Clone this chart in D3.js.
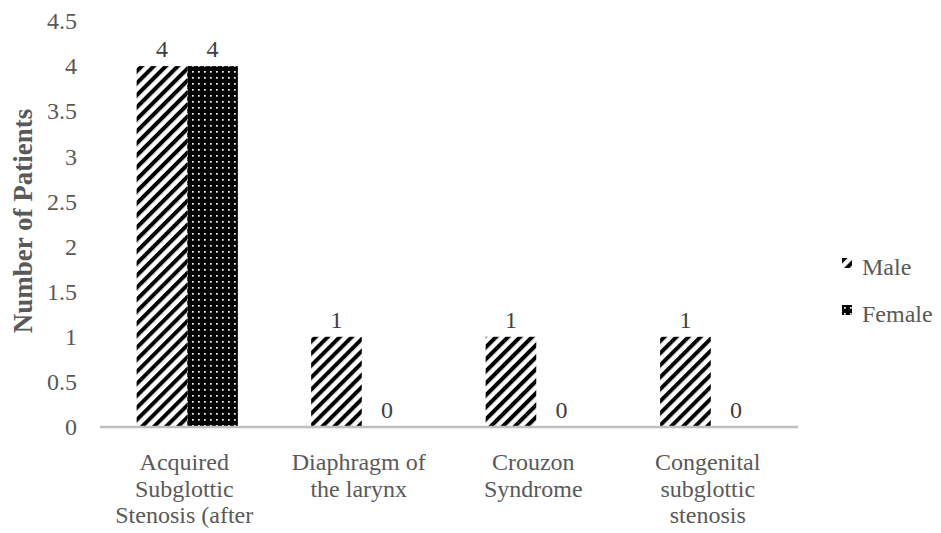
<!DOCTYPE html>
<html>
<head>
<meta charset="utf-8">
<script src="https://cdn.jsdelivr.net/npm/d3@7"></script>
<style>
  body { margin: 0; background: #fff; }
  text { font-family: "Liberation Serif", "Times New Roman", serif; }
</style>
</head>
<body>
<svg id="chart" width="941" height="533"></svg>
<script>
// chart data
const categories = [
  ["Acquired", "Subglottic", "Stenosis (after"],
  ["Diaphragm of", "the larynx"],
  ["Crouzon", "Syndrome"],
  ["Congenital", "subglottic", "stenosis"]
];
const seriesNames = ["Male", "Female"];
const maleValues = [4, 1, 1, 1];
const femaleValues = [4, 0, 0, 0];
const yTicks = [0, 0.5, 1, 1.5, 2, 2.5, 3, 3.5, 4, 4.5];

const svg = d3.select('#chart');
const margin = { top: 21, left: 100, right: 143, bottom: 106 };
const width = 941 - margin.left - margin.right;
const height = 533 - margin.top - margin.bottom;
const FS = 24;

// patterns
const defs = svg.append('defs');
const stripe = defs.append('pattern')
  .attr('id', 'pat-male')
  .attr('patternUnits', 'userSpaceOnUse')
  .attr('width', 8.5).attr('height', 8.5)
  .attr('patternTransform', 'rotate(45)');
stripe.append('rect').attr('width', 8.5).attr('height', 8.5).attr('fill', '#fff');
stripe.append('rect').attr('x', 0).attr('width', 4).attr('height', 8.5).attr('fill', '#000');

const dots = defs.append('pattern')
  .attr('id', 'pat-female')
  .attr('patternUnits', 'userSpaceOnUse')
  .attr('width', 6).attr('height', 6);
dots.append('rect').attr('width', 6).attr('height', 6).attr('fill', '#000');
dots.append('rect').attr('x', 2).attr('y', 2).attr('width', 1.7).attr('height', 1.7).attr('fill', '#fff');

const fills = ['url(#pat-male)', 'url(#pat-female)'];

const g = svg.append('g')
  .attr('transform', 'translate(' + margin.left + ',' + margin.top + ')');

const x0 = d3.scaleBand()
  .domain(d3.range(categories.length))
  .range([0, width])
  .paddingInner(0.42)
  .paddingOuter(0.21);

const x1 = d3.scaleBand()
  .domain(seriesNames)
  .range([0, x0.bandwidth()]);

const y = d3.scaleLinear().domain([0, 4.5]).range([height, 0]);

// y axis (labels only)
const yAxis = g.append('g')
  .call(d3.axisLeft(y).tickValues(yTicks).tickSize(0).tickPadding(23).tickFormat(d3.format('')));
yAxis.select('.domain').remove();
yAxis.selectAll('text')
  .attr('font-size', FS)
  .attr('fill', '#595959')
  .style('font-family', '"Liberation Serif", serif');

// bars
const series = [maleValues, femaleValues];
series.forEach((vals, si) => {
  g.append('g').selectAll('rect')
    .data(vals)
    .join('rect')
    .attr('x', (d, i) => x0(i) + x1(seriesNames[si]))
    .attr('y', d => y(d))
    .attr('width', x1.bandwidth())
    .attr('height', d => height - y(d))
    .attr('fill', fills[si]);

  g.append('g').selectAll('text')
    .data(vals)
    .join('text')
    .attr('x', (d, i) => x0(i) + x1(seriesNames[si]) + x1.bandwidth() / 2)
    .attr('y', d => y(d) - 9)
    .attr('text-anchor', 'middle')
    .attr('font-size', FS)
    .attr('fill', '#404040')
    .text(d => d);
});

// x axis line
g.append('line')
  .attr('x1', 0).attr('x2', width)
  .attr('y1', height).attr('y2', height)
  .attr('stroke', '#bfbfbf')
  .attr('stroke-width', 2.5);

// category labels
categories.forEach((lines, i) => {
  const cx = x0(i) + x0.bandwidth() / 2 - 3;
  const t = g.append('text')
    .attr('x', cx)
    .attr('y', height + 43)
    .attr('text-anchor', 'middle')
    .attr('font-size', FS)
    .attr('fill', '#595959');
  lines.forEach((ln, k) => {
    t.append('tspan')
      .attr('x', cx)
      .attr('dy', k === 0 ? 0 : 26.5)
      .text(ln);
  });
});

// y axis title
svg.append('text')
  .attr('transform', 'translate(32,221) rotate(-90)')
  .attr('text-anchor', 'middle')
  .attr('font-size', 27)
  .attr('font-weight', 'bold')
  .attr('fill', '#595959')
  .text('Number of Patients');

// legend
const legend = svg.append('g').attr('transform', 'translate(842,258)');
seriesNames.forEach((name, i) => {
  const row = legend.append('g').attr('transform', 'translate(0,' + (i * 47) + ')');
  row.append('rect').attr('width', 10).attr('height', 10).attr('fill', fills[i]);
  row.append('text')
    .attr('x', 20).attr('y', 17)
    .attr('font-size', FS)
    .attr('fill', '#595959')
    .text(name);
});
</script>
</body>
</html>
